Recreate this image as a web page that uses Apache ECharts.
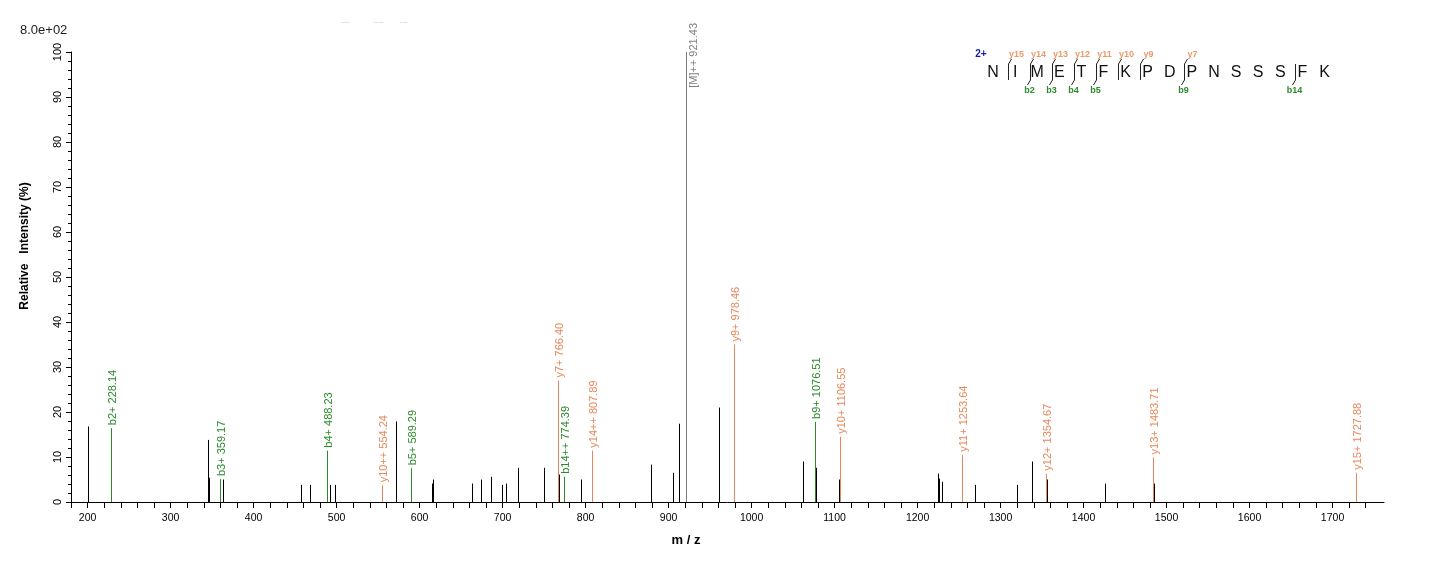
<!DOCTYPE html>
<html>
<head>
<meta charset="utf-8">
<script src="https://cdn.jsdelivr.net/npm/echarts@6/dist/echarts.min.js"></script>
<style>
  html, body { margin: 0; padding: 0; background: #fff; }
  #chart { width: 1436px; height: 562px; }
</style>
</head>
<body>
<div id="chart"></div>
<script>
// unannotated peaks (black)
var otherMz = [200.0, 344.6, 345.8, 362.7, 456.6, 467.5, 491.6, 497.6, 571.0, 614.9, 615.7,
  662.7, 673.5, 685.5, 698.8, 703.6, 718.5, 749.4, 767.5, 794.0, 878.3, 904.8, 912.0, 920.6,
  960.3, 1061.4, 1077.1, 1104.8, 1224.1, 1225.3, 1228.9, 1230.0, 1268.7, 1319.3, 1337.3,
  1355.4, 1425.3, 1484.3];
var otherInt = [16.8, 13.8, 5.4, 5.0, 3.8, 3.8, 3.8, 3.8, 17.9, 4.1, 5.0,
  4.1, 5.0, 5.6, 3.8, 4.1, 7.6, 7.6, 6.1, 5.0, 8.3, 6.5, 17.4, 41.8,
  21.0, 9.0, 7.6, 5.0, 6.3, 5.2, 4.5, 3.8, 3.8, 3.8, 9.0,
  5.0, 4.1, 4.1];

// annotated fragment ions
var ionLabels = ['b2+', 'b3+', 'b4+', 'y10++', 'b5+', 'y7+', 'b14++', 'y14++', '[M]++', 'y9+',
  'b9+', 'y10+', 'y11+', 'y12+', 'y13+', 'y15+'];
var ionMz = [228.14, 359.17, 488.23, 554.24, 589.29, 766.40, 774.39, 807.89, 921.43, 978.46,
  1076.51, 1106.55, 1253.64, 1354.67, 1483.71, 1727.88];
var ionInt = [16.4, 5.1, 11.4, 3.7, 7.5, 27.0, 5.6, 11.4, 100, 35.0,
  17.8, 14.5, 10.5, 6.3, 9.9, 6.5];
var ionType = ['b', 'b', 'b', 'y', 'b', 'y', 'b', 'y', 'M', 'y',
  'b', 'y', 'y', 'y', 'y', 'y'];

// axis ticks / labels
var xTicks = [];
for (var t = 180; t <= 1740; t += 20) xTicks.push(t);
var xLabels = [200, 300, 400, 500, 600, 700, 800, 900, 1000, 1100, 1200, 1300, 1400, 1500, 1600, 1700];

// peptide
var sequence = ['N', 'I', 'M', 'E', 'T', 'F', 'K', 'P', 'D', 'P', 'N', 'S', 'S', 'S', 'F', 'K'];
var bIons = [2, 3, 4, 5, 9, 14];
var yIons = [15, 14, 13, 12, 11, 10, 9, 7];
var precursorCharge = '2+';
var scaleText = '8.0e+02';

var colors = { b: '#2b8a2b', y: '#e8875a', M: '#808080' };

function peakLine(params, api) {
    var top = api.coord([api.value(0), api.value(1)]);
    var base = api.coord([api.value(0), 0]);
    var x = Math.round(top[0]) + 0.5;
    return {
        type: 'line',
        shape: { x1: x, y1: base[1], x2: x, y2: top[1] },
        style: { stroke: '#000', lineWidth: 1 }
    };
}

function ionPeak(params, api) {
    var i = params.dataIndex;
    var top = api.coord([api.value(0), api.value(1)]);
    var base = api.coord([api.value(0), 0]);
    var x = Math.round(top[0]) + 0.5;
    var c = colors[ionType[i]];
    var txt = ionLabels[i] + ' ' + ionMz[i].toFixed(2);
    var label;
    if (ionType[i] === 'M') {
        // no room above, put it beside the line
        label = { type: 'text', x: x + 7, y: 23, rotation: Math.PI / 2,
            style: { text: txt, fill: c, font: '11px Arial', align: 'right', verticalAlign: 'middle' } };
    } else {
        label = { type: 'text', x: x + 1, y: top[1] - 3, rotation: Math.PI / 2,
            style: { text: txt, fill: c, font: '11px Arial', align: 'left', verticalAlign: 'middle' } };
    }
    return {
        type: 'group',
        children: [
            { type: 'line', shape: { x1: x, y1: base[1], x2: x, y2: top[1] }, style: { stroke: c, lineWidth: 1 } },
            label
        ]
    };
}

// peptide sequence graphic (top right)
function peptideGraphic() {
    var x0 = 993, step = 22.1, yc = 72.5;
    var els = [];
    els.push({ type: 'text', x: 981, y: 54, style: { text: precursorCharge, fill: '#1a1aa8',
        font: 'bold 10px Arial', align: 'center', verticalAlign: 'middle' } });
    sequence.forEach(function (aa, i) {
        els.push({ type: 'text', x: x0 + step * i, y: yc, style: { text: aa, fill: '#111',
            font: '16px Arial', align: 'center', verticalAlign: 'middle' } });
    });
    var cuts = {};
    bIons.forEach(function (n) { cuts[n] = cuts[n] || {}; cuts[n].b = n; });
    yIons.forEach(function (m) { var c = sequence.length - m; cuts[c] = cuts[c] || {}; cuts[c].y = m; });
    Object.keys(cuts).forEach(function (k) {
        var c = +k;
        var x = Math.round(x0 + step * c - 7.5) + 0.5;
        els.push({ type: 'line', shape: { x1: x, y1: 64, x2: x, y2: 80 }, style: { stroke: '#222', lineWidth: 1 } });
        if (cuts[k].y) {
            els.push({ type: 'line', shape: { x1: x, y1: 64, x2: x + 3, y2: 59 }, style: { stroke: '#222', lineWidth: 1 } });
            els.push({ type: 'text', x: x + 8, y: 55, style: { text: 'y' + cuts[k].y, fill: '#ec9a6a',
                font: 'bold 9px Arial', align: 'center', verticalAlign: 'middle' } });
        }
        if (cuts[k].b) {
            els.push({ type: 'line', shape: { x1: x, y1: 80, x2: x - 3, y2: 85 }, style: { stroke: '#222', lineWidth: 1 } });
            els.push({ type: 'text', x: x - 1, y: 91, style: { text: 'b' + cuts[k].b, fill: '#2b8a2b',
                font: 'bold 9px Arial', align: 'center', verticalAlign: 'middle' } });
        }
    });
    return els;
}

var chart = echarts.init(document.getElementById('chart'), null, { renderer: 'canvas' });

var graphics = [
    { type: 'text', left: 20, top: 24, style: { text: scaleText, fill: '#222', font: '13px Arial' } },
    { type: 'text', x: 25, y: 246, rotation: Math.PI / 2, style: { text: 'Relative   Intensity (%)',
        fill: '#000', font: 'bold 12px Arial', align: 'center', verticalAlign: 'middle' } },
    { type: 'text', x: 686, y: 540, style: { text: 'm / z', fill: '#000', font: 'bold 13px Arial',
        align: 'center', verticalAlign: 'middle' } },
    // faint marks at the top
    { type: 'line', shape: { x1: 341, y1: 22.5, x2: 350, y2: 22.5 }, style: { stroke: '#e4e4e4', lineWidth: 1 } },
    { type: 'line', shape: { x1: 374, y1: 22.5, x2: 383, y2: 22.5 }, style: { stroke: '#e4e4e4', lineWidth: 1 } },
    { type: 'line', shape: { x1: 400, y1: 22.5, x2: 407, y2: 22.5 }, style: { stroke: '#e4e4e4', lineWidth: 1 } }
].concat(peptideGraphic());

var option = {
    animation: false,
    backgroundColor: '#fff',
    grid: { left: 71, right: 52, top: 52, bottom: 60 },
    xAxis: {
        type: 'value',
        min: 180,
        max: 1762,
        axisLine: { lineStyle: { color: '#000', width: 1 } },
        axisTick: { show: true, customValues: xTicks, length: 6, lineStyle: { color: '#000' } },
        axisLabel: { customValues: xLabels, color: '#000', fontSize: 10.5, fontFamily: 'Arial', margin: 11,
            formatter: function (v) { return String(v); } },
        splitLine: { show: false }
    },
    yAxis: {
        type: 'value',
        min: 0,
        max: 100,
        interval: 10,
        axisLine: { show: true, lineStyle: { color: '#000', width: 1 } },
        axisTick: { show: true, length: 5, lineStyle: { color: '#000' } },
        minorTick: { show: true, splitNumber: 5, length: 3, lineStyle: { color: '#000' } },
        axisLabel: { rotate: 90, color: '#000', fontSize: 11, fontFamily: 'Arial', margin: 8 },
        splitLine: { show: false }
    },
    graphic: graphics,
    series: [
        {
            type: 'custom',
            name: 'peaks',
            renderItem: peakLine,
            data: otherMz.map(function (m, i) { return [m, otherInt[i]]; }),
            silent: true
        },
        {
            type: 'custom',
            name: 'ions',
            renderItem: ionPeak,
            data: ionMz.map(function (m, i) { return [m, ionInt[i]]; }),
            silent: true
        }
    ]
};

chart.setOption(option);
</script>
</body>
</html>
